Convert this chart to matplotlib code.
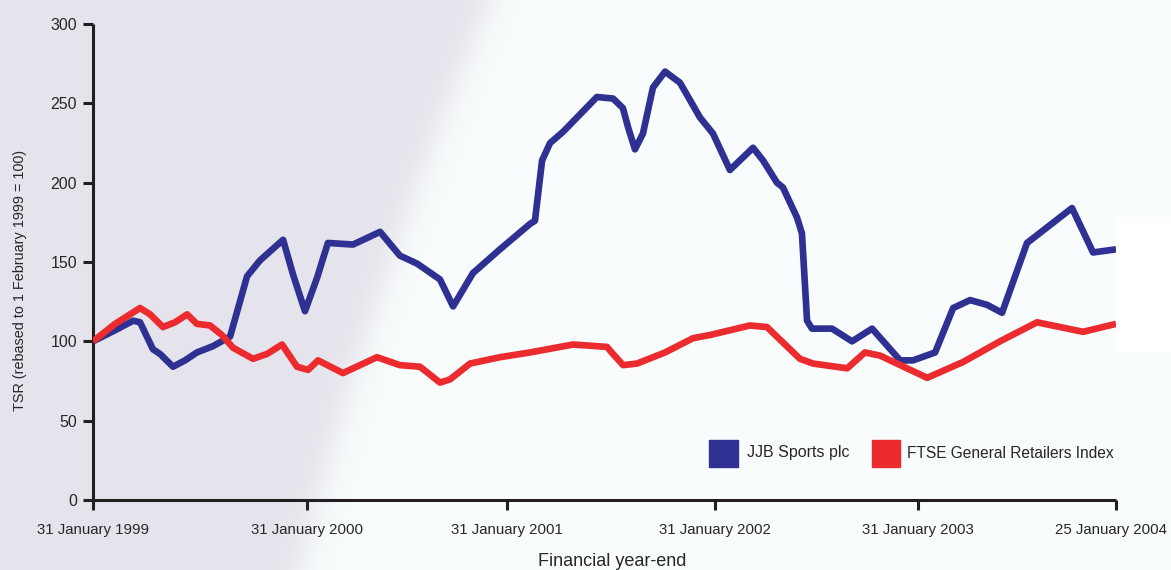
import numpy as np
import matplotlib
matplotlib.use("Agg")
import matplotlib.pyplot as plt
from matplotlib.transforms import ScaledTranslation

# ---- data (x in chart-years from 31 Jan 1999) ----
jjb_x = [0.000, 0.108, 0.196, 0.230, 0.293, 0.328, 0.391, 0.450, 0.508, 0.587,
         0.670, 0.753, 0.816, 0.929, 0.978, 1.036, 1.095, 1.148, 1.271, 1.403,
         1.500, 1.584, 1.696, 1.760, 1.857, 1.989, 2.136, 2.160, 2.195, 2.234,
         2.297, 2.463, 2.542, 2.590, 2.615, 2.649, 2.688, 2.737, 2.796, 2.869,
         2.967, 3.030, 3.113, 3.226, 3.275, 3.343, 3.372, 3.441, 3.465, 3.490,
         3.514, 3.612, 3.710, 3.808, 3.945, 4.008, 4.116, 4.204, 4.287, 4.370,
         4.443, 4.565, 4.785, 4.888, 5.000]
jjb_v = [100, 107, 113, 112, 95, 92, 84, 88, 93, 97,
         103, 141, 151, 164, 142, 119, 140, 162, 161, 169,
         154, 149, 139, 122, 143, 158, 174, 176, 214, 225,
         232, 254, 253, 247, 235, 221, 231, 260, 270, 263,
         241, 231, 208, 222, 214, 200, 197, 178, 168, 113,
         108, 108, 100, 108, 88, 88, 93, 121, 126, 123,
         118, 162, 184, 156, 158]

ftse_x = [0.000, 0.108, 0.230, 0.279, 0.342, 0.401, 0.460, 0.508, 0.572, 0.630,
          0.684, 0.782, 0.850, 0.924, 0.997, 1.051, 1.100, 1.222, 1.388, 1.500,
          1.598, 1.696, 1.745, 1.843, 1.989, 2.136, 2.346, 2.512, 2.542, 2.591,
          2.659, 2.796, 2.933, 3.016, 3.211, 3.294, 3.455, 3.519, 3.686, 3.773,
          3.847, 4.077, 4.253, 4.433, 4.614, 4.839, 5.000]
ftse_v = [100, 111, 121, 117, 109, 112, 117, 111, 110, 104,
          96, 89, 92, 98, 84, 82, 88, 80, 90, 85,
          84, 74, 76, 86, 90, 93, 98, 96.5, 92, 85,
          86, 93, 102, 104, 110, 109, 89, 86, 83, 93,
          91, 77, 87, 100, 112, 106, 111]

tick_pos = [0.000, 1.046, 2.024, 3.040, 4.032, 5.000]
tick_labels = ["31 January 1999", "31 January 2000", "31 January 2001",
               "31 January 2002", "31 January 2003", "25 January 2004"]
y_ticks = [0, 50, 100, 150, 200, 250, 300]
series_names = ["JJB Sports plc", "FTSE General Retailers Index"]

BLUE = "#2e3192"
RED = "#ec2b2e"
INK = "#231f20"
TXT = "#2a2627"

plt.rcParams['font.family'] = ['Liberation Sans', 'DejaVu Sans']

W, H = 1171, 570
fig = plt.figure(figsize=(W / 100, H / 100), dpi=100)
fig.patch.set_facecolor("#f8fcfc")

# background: grey wedge on the left fading to near-white
yy, xx = np.mgrid[0:H, 0:W].astype(float)
xb = 490 - 0.4185 * yy + 0.0001493 * yy ** 2
t = 1 / (1 + np.exp(-(xx - xb) / 9.0))
grey = np.array([229, 228, 236], dtype=float)
white = np.array([248, 252, 252], dtype=float)
img = grey[None, None, :] * (1 - t[..., None]) + white[None, None, :] * t[..., None]
img[217:352, 1116:1171, :] = 255.0
img = np.round(img).astype(np.uint8)
fig.figimage(img, xo=0, yo=0, origin='upper', zorder=-10)

ax = fig.add_axes([93 / W, 70 / H, 1023 / W, 476 / H])
ax.set_facecolor("none")

ax.plot(jjb_x, jjb_v, color=BLUE, lw=4.8, solid_joinstyle='round',
        solid_capstyle='butt', zorder=3)
ax.plot(ftse_x, ftse_v, color=RED, lw=4.8, solid_joinstyle='round',
        solid_capstyle='butt', zorder=4)

ax.set_xlim(0, 5)
ax.set_ylim(0, 300)
for s in ["top", "right"]:
    ax.spines[s].set_visible(False)
for s in ["left", "bottom"]:
    ax.spines[s].set_color(INK)
    ax.spines[s].set_linewidth(2.2)
    ax.spines[s].set_capstyle('butt')

ax.set_yticks(y_ticks)
ax.set_xticks(tick_pos)
ax.set_xticklabels(tick_labels)
ax.tick_params(axis='both', colors=INK, width=2.2, length=7.5, labelsize=10.8,
               labelcolor=TXT)
ax.tick_params(axis='y', pad=4, labelsize=11.5)
ax.tick_params(axis='x', pad=9)
last = ax.get_xticklabels()[-1]
last.set_transform(last.get_transform() + ScaledTranslation(-5 / 100, 0, fig.dpi_scale_trans))

fig.text(20 / W, 1 - 280 / H, "TSR (rebased to 1 February 1999 = 100)",
         rotation=90, ha='center', va='center', fontsize=10.4, color=TXT)
fig.text(612 / W, 1 - 561 / H, "Financial year-end", ha='center', va='center',
         fontsize=13, color=TXT)

# legend (colour squares + labels)
fig.patches.append(plt.Rectangle((709 / W, 1 - 467 / H), 29 / W, 27 / H,
                                 transform=fig.transFigure, color=BLUE, zorder=5))
fig.text(747 / W, 1 - 453 / H, series_names[0], ha='left', va='center',
         fontsize=11.5, color=TXT)
fig.patches.append(plt.Rectangle((872 / W, 1 - 467 / H), 28 / W, 27 / H,
                                 transform=fig.transFigure, color=RED, zorder=5))
fig.text(907 / W, 1 - 453 / H, series_names[1], ha='left', va='center',
         fontsize=11.2, color=TXT)

fig.savefig("out.png", dpi=100)
